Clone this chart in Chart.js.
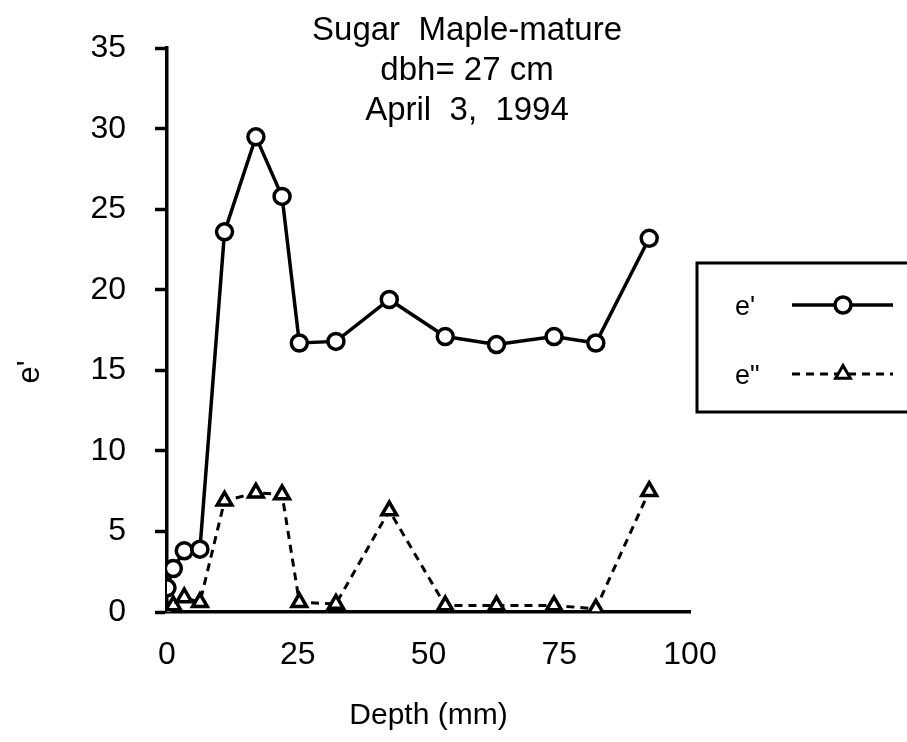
<!DOCTYPE html>
<html>
<head>
<meta charset="utf-8">
<script src="https://cdn.jsdelivr.net/npm/chart.js@4.4.1/dist/chart.umd.min.js"></script>
<style>
html, body { margin: 0; background: #fff; }
canvas { display: block; }
</style>
</head>
<body>
<canvas id="chart" width="907" height="742"></canvas>
<script>
// values
const depthMm = [0, 1.2, 3.3, 6.3, 11, 17, 22, 25.3, 32.3, 42.5, 53.2, 63, 74, 82, 92.2];
const ePrime = [1.5, 2.7, 3.8, 3.9, 23.6, 29.5, 25.8, 16.7, 16.8, 19.4, 17.1, 16.6, 17.1, 16.7, 23.2];
const eDouble = [0.1, 0.4, 0.9, 0.6, 6.9, 7.4, 7.3, 0.6, 0.5, 6.3, 0.4, 0.4, 0.4, 0.2, 7.5];
const seriesNames = ["e'", 'e"'];
const titleLines = ['Sugar  Maple-mature', 'dbh= 27 cm', 'April  3,  1994'];
const xTitle = 'Depth (mm)';
const yTitle = "e'";

const FONT = '"Liberation Sans", Arial, Helvetica, sans-serif';
const INK = '#000';

function toPoints(values) {
    return values.map((v, i) => ({x: depthMm[i], y: v}));
}

//title block, rotated y title and the boxed legend sit over the plot, so draw them by hand
const overlay = {
    id: 'overlay',
    afterDraw(chart) {
        const ctx = chart.ctx;
        ctx.save();
        ctx.fillStyle = INK;
        ctx.textBaseline = 'alphabetic';
        ctx.textAlign = 'center';
        ctx.font = '33px ' + FONT;
        titleLines.forEach((line, i) => ctx.fillText(line, 467, 40 + i * 40));

        ctx.save();
        ctx.translate(39, 372);
        ctx.rotate(-Math.PI / 2);
        ctx.font = '31px ' + FONT;
        ctx.fillText(yTitle, 0, 0);
        ctx.restore();

        // legend box, runs off the right edge as in the scan
        ctx.lineWidth = 3;
        ctx.strokeStyle = INK;
        ctx.strokeRect(697, 263, 240, 149);
        ctx.font = '27px ' + FONT;
        ctx.textAlign = 'left';
        const rows = [305, 374];
        chart.data.datasets.forEach((ds, i) => {
            const y = rows[i];
            ctx.fillStyle = INK;
            ctx.fillText(seriesNames[i], 735, y + 10);
            ctx.beginPath();
            ctx.setLineDash(ds.borderDash || []);
            ctx.lineWidth = ds.borderWidth;
            ctx.moveTo(792, y);
            ctx.lineTo(893, y);
            ctx.stroke();
            ctx.setLineDash([]);
            ctx.fillStyle = '#fff';
            Chart.helpers.drawPoint(ctx, {
                pointStyle: ds.pointStyle,
                radius: ds.pointRadius,
                borderWidth: ds.pointBorderWidth,
                rotation: 0
            }, 843, y);
        });
        ctx.restore();
    }
};

new Chart(document.getElementById('chart'), {
    type: 'line',
    data: {
        datasets: [
            {
                label: seriesNames[0],
                data: toPoints(ePrime),
                borderColor: INK,
                borderWidth: 3.5,
                pointStyle: 'circle',
                pointRadius: 8,
                pointBorderWidth: 3.5,
                pointBackgroundColor: '#fff',
                pointBorderColor: INK
            },
            {
                label: seriesNames[1],
                data: toPoints(eDouble),
                borderColor: INK,
                borderWidth: 3,
                borderDash: [8, 6],
                pointStyle: 'triangle',
                pointRadius: 8.5,
                pointBorderWidth: 3.5,
                pointBackgroundColor: '#fff',
                pointBorderColor: INK
            }
        ]
    },
    options: {
        responsive: false,
        animation: false,
        layout: {padding: {left: 0, right: 217, top: 36, bottom: 0}},
        plugins: {legend: {display: false}, tooltip: {enabled: false}, title: {display: false}},
        scales: {
            x: {
                type: 'linear',
                min: 0,
                max: 100,
                afterFit: s => { s.height = 130; },
                ticks: {stepSize: 25, color: INK, padding: 24, font: {family: FONT, size: 32}},
                grid: {drawOnChartArea: false, drawTicks: false},
                border: {color: INK, width: 3.5},
                title: {display: true, text: xTitle, color: INK, font: {family: FONT, size: 30}, padding: {top: 0, bottom: 8}}
            },
            y: {
                min: 0,
                max: 35,
                afterFit: s => { s.width = 167; },
                ticks: {stepSize: 5, color: INK, padding: 29, font: {family: FONT, size: 32}},
                grid: {drawOnChartArea: false, tickLength: 12, tickColor: INK, tickWidth: 3.5},
                border: {color: INK, width: 3.5}
            }
        }
    },
    plugins: [overlay]
});
</script>
</body>
</html>
